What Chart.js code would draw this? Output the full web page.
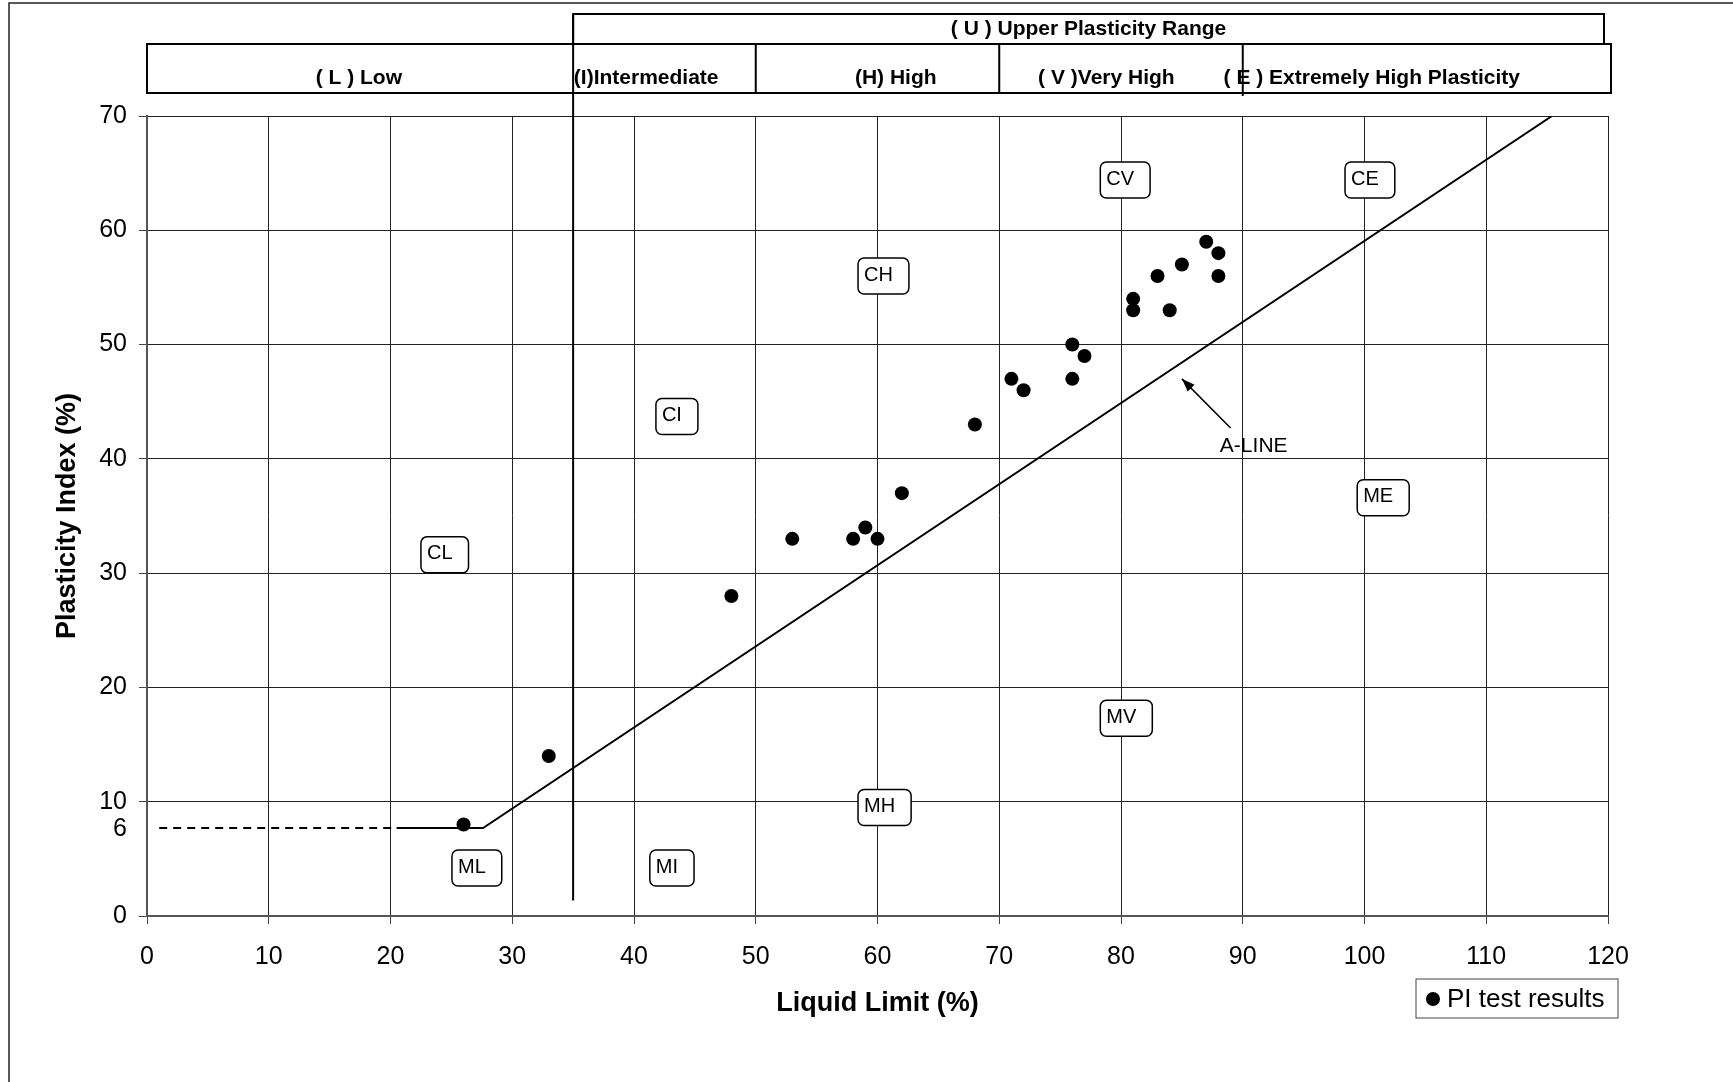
<!DOCTYPE html>
<html>
<head>
<meta charset="utf-8">
<script src="https://cdn.jsdelivr.net/npm/chart.js@4.4.1/dist/chart.umd.min.js"></script>
<style>
    html, body { margin: 0; padding: 0; background: #fff; }
    #wrap { position: relative; width: 1733px; height: 1082px; }
</style>
</head>
<body>
<div id="wrap"><canvas id="plasticityChart" width="1733" height="1082"></canvas></div>
<script>
// PI test results
const liquidLimit = [26, 33, 48, 53, 58, 59, 60, 62, 68, 71, 72, 76, 76, 77, 81, 81, 83, 84, 85, 87, 88, 88];
const plasticityIndex = [8, 14, 28, 33, 33, 34, 33, 37, 43, 47, 46, 50, 47, 49, 54, 53, 56, 53, 57, 59, 58, 56];

// A-line (dashed part, then solid part)
const aLineDashedLL = [1, 20.5];
const aLineDashedPI = [7.7, 7.7];
const aLineLL = [20.5, 27.6, 115.4];
const aLinePI = [7.7, 7.7, 70];

// Plasticity ranges along the liquid limit axis
const rangeBounds = [35, 50, 70, 90];
const rangeLabels = ['( L ) Low', '(I)Intermediate', '(H) High', '( V )Very High', '( E ) Extremely High Plasticity'];
const rangeLabelLL = [17.4, 41.0, 61.5, 78.8, 100.6];
const upperLabel = '( U ) Upper Plasticity Range';

// Soil class boxes (left edge LL, centre PI)
const zoneNames = ['CL', 'CI', 'CH', 'CV', 'CE', 'ME', 'MV', 'MH', 'MI', 'ML'];
const zoneLL = [22.5, 41.8, 58.4, 78.3, 98.4, 99.4, 78.3, 58.4, 41.3, 25.05];
const zonePI = [31.6, 43.7, 56, 64.4, 64.4, 36.6, 17.3, 9.5, 4.2, 4.2];

// A-line annotation
const aLineLabelAt = [90.9, 41.1];
const arrowFrom = [89.0, 42.7];
const arrowTo = [85.0, 47.0];

// Axis ticks
const xTicks = [0, 10, 20, 30, 40, 50, 60, 70, 80, 90, 100, 110, 120];
const yTicks = [0, 10, 20, 30, 40, 50, 60, 70];
const extraYLabel = '6';

const FONT = "'Liberation Sans', Arial, sans-serif";

function toPoints(xs, ys) {
    return xs.map((x, i) => ({ x: x, y: ys[i] }));
}

const overlayPlugin = {
    id: 'overlay',
    afterDraw(chart) {
        const ctx = chart.ctx;
        const xs = chart.scales.x;
        const ys = chart.scales.y;
        const px = v => xs.getPixelForValue(v);
        const py = v => ys.getPixelForValue(v);
        const area = chart.chartArea;

        ctx.save();

        // outer frame (top and left edges)
        ctx.strokeStyle = '#222';
        ctx.lineWidth = 1.5;
        ctx.beginPath();
        ctx.moveTo(9, 1082);
        ctx.lineTo(9, 3);
        ctx.lineTo(1733, 3);
        ctx.stroke();

        // header boxes
        const row1Top = 14, row1Bottom = 44, row2Bottom = 93;
        ctx.strokeStyle = '#000';
        ctx.lineWidth = 2;
        ctx.strokeRect(px(rangeBounds[0]), row1Top, px(120) - 4 - px(rangeBounds[0]), row1Bottom - row1Top);
        ctx.strokeRect(px(0), row1Bottom, px(120) + 3 - px(0), row2Bottom - row1Bottom);
        ctx.beginPath();
        // LL 35 boundary goes all the way down into the plot
        ctx.moveTo(px(rangeBounds[0]), row1Top);
        ctx.lineTo(px(rangeBounds[0]), py(1.35));
        rangeBounds.slice(1).forEach((b, i) => {
            ctx.moveTo(px(b), row1Bottom);
            ctx.lineTo(px(b), i === 2 ? row2Bottom + 3 : row2Bottom);
        });
        ctx.stroke();

        ctx.fillStyle = '#000';
        ctx.font = 'bold 21px ' + FONT;
        ctx.textAlign = 'center';
        ctx.textBaseline = 'middle';
        ctx.fillText(upperLabel, (px(rangeBounds[0]) + px(120) - 4) / 2, 29);
        rangeLabels.forEach((t, i) => ctx.fillText(t, px(rangeLabelLL[i]), 78));

        // extra "6" label on the y axis
        ctx.font = '25px ' + FONT;
        ctx.textAlign = 'right';
        ctx.fillText(extraYLabel, area.left - 20, py(aLineDashedPI[0]) + 1);

        // soil class boxes
        ctx.font = '20px ' + FONT;
        ctx.textAlign = 'left';
        ctx.lineWidth = 1.5;
        zoneNames.forEach((name, i) => {
            const w = ctx.measureText(name).width + 22;
            const h = 36;
            const x = px(zoneLL[i]);
            const y = py(zonePI[i]) - h / 2;
            ctx.beginPath();
            ctx.roundRect(x, y, w, h, 6);
            ctx.fillStyle = '#fff';
            ctx.fill();
            ctx.strokeStyle = '#000';
            ctx.stroke();
            ctx.fillStyle = '#000';
            ctx.fillText(name, x + 6, y + h / 2 - 1);
        });

        // A-LINE label and arrow
        ctx.font = '21px ' + FONT;
        ctx.textAlign = 'center';
        ctx.fillText('A-LINE', px(aLineLabelAt[0]), py(aLineLabelAt[1]));
        const ax0 = px(arrowFrom[0]), ay0 = py(arrowFrom[1]);
        const ax1 = px(arrowTo[0]), ay1 = py(arrowTo[1]);
        const ang = Math.atan2(ay1 - ay0, ax1 - ax0);
        ctx.lineWidth = 1.5;
        ctx.beginPath();
        ctx.moveTo(ax0, ay0);
        ctx.lineTo(ax1, ay1);
        ctx.stroke();
        ctx.beginPath();
        ctx.moveTo(ax1, ay1);
        ctx.lineTo(ax1 - 14 * Math.cos(ang - 0.35), ay1 - 14 * Math.sin(ang - 0.35));
        ctx.lineTo(ax1 - 14 * Math.cos(ang + 0.35), ay1 - 14 * Math.sin(ang + 0.35));
        ctx.closePath();
        ctx.fill();

        // axis titles
        ctx.font = 'bold 27px ' + FONT;
        ctx.textAlign = 'center';
        ctx.fillText('Liquid Limit (%)', (area.left + area.right) / 2, area.bottom + 88);
        ctx.save();
        ctx.translate(68, (area.top + area.bottom) / 2);
        ctx.rotate(-Math.PI / 2);
        ctx.fillText('Plasticity Index (%)', 0, 0);
        ctx.restore();

        // legend
        const lx = area.right - 192, ly = area.bottom + 63;
        ctx.strokeStyle = '#444';
        ctx.lineWidth = 1;
        ctx.strokeRect(lx, ly, 202, 39);
        ctx.beginPath();
        ctx.arc(lx + 17, ly + 20, 7, 0, Math.PI * 2);
        ctx.fill();
        ctx.font = '26px ' + FONT;
        ctx.textAlign = 'left';
        ctx.fillText('PI test results', lx + 31, ly + 21);

        ctx.restore();
    }
};

document.addEventListener('DOMContentLoaded', function() {
    const ctx = document.getElementById('plasticityChart').getContext('2d');
    new Chart(ctx, {
        data: {
            datasets: [{
                type: 'line',
                label: 'A-line dashed',
                data: toPoints(aLineDashedLL, aLineDashedPI),
                borderColor: '#000',
                borderWidth: 2,
                borderDash: [8, 6],
                pointRadius: 0,
                tension: 0
            }, {
                type: 'line',
                label: 'A-line',
                data: toPoints(aLineLL, aLinePI),
                borderColor: '#000',
                borderWidth: 2,
                pointRadius: 0,
                tension: 0
            }, {
                type: 'scatter',
                label: 'PI test results',
                data: toPoints(liquidLimit, plasticityIndex),
                backgroundColor: '#000',
                borderWidth: 0,
                pointRadius: 7,
                pointHoverRadius: 7
            }]
        },
        options: {
            responsive: false,
            devicePixelRatio: 1,
            animation: false,
            events: [],
            layout: { padding: { top: 116, right: 125, left: 0, bottom: 0 } },
            plugins: {
                legend: { display: false },
                tooltip: { enabled: false }
            },
            scales: {
                x: {
                    type: 'linear',
                    min: 0,
                    max: 120,
                    afterFit: scale => { scale.height = 166; },
                    afterBuildTicks: scale => { scale.ticks = xTicks.map(v => ({ value: v })); },
                    grid: { color: '#222', lineWidth: 1, tickLength: 8, tickColor: '#444' },
                    border: { display: true, color: '#555', width: 2 },
                    ticks: {
                        color: '#000',
                        padding: 18,
                        maxRotation: 0,
                        font: { family: FONT, size: 25 }
                    }
                },
                y: {
                    type: 'linear',
                    min: 0,
                    max: 70,
                    afterFit: scale => { scale.width = 147; },
                    afterBuildTicks: scale => { scale.ticks = yTicks.map(v => ({ value: v })); },
                    grid: { color: '#222', lineWidth: 1, tickLength: 8, tickColor: '#444' },
                    border: { display: true, color: '#555', width: 2 },
                    ticks: {
                        color: '#000',
                        padding: 12,
                        font: { family: FONT, size: 25 }
                    }
                }
            }
        },
        plugins: [overlayPlugin]
    });
});
</script>
</body>
</html>
